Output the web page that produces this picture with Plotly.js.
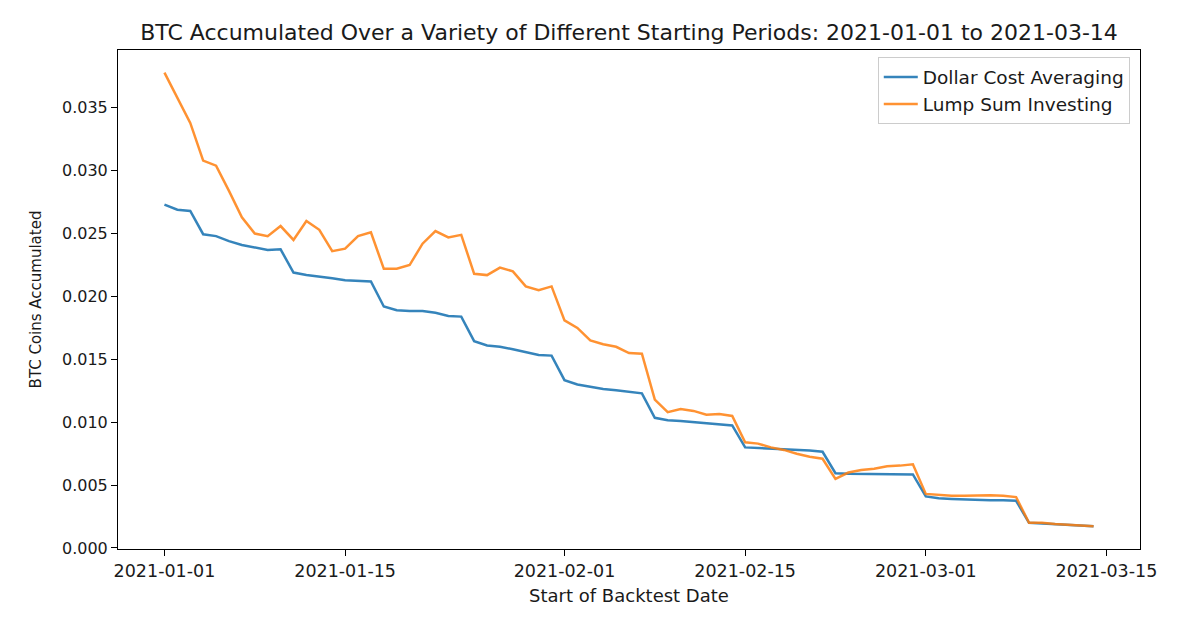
<!DOCTYPE html>
<html>
<head>
<meta charset="utf-8">
<script src="https://cdn.plot.ly/plotly-3.0.1.min.js"></script>
<style>
  html, body { margin: 0; padding: 0; background: #fff; }
  #chart { width: 1200px; height: 632px; }
</style>
</head>
<body>
<div id="chart"></div>
<script>
const dates = [
  '2021-01-01','2021-01-02','2021-01-03','2021-01-04','2021-01-05','2021-01-06','2021-01-07','2021-01-08','2021-01-09','2021-01-10',
  '2021-01-11','2021-01-12','2021-01-13','2021-01-14','2021-01-15','2021-01-16','2021-01-17','2021-01-18','2021-01-19','2021-01-20',
  '2021-01-21','2021-01-22','2021-01-23','2021-01-24','2021-01-25','2021-01-26','2021-01-27','2021-01-28','2021-01-29','2021-01-30',
  '2021-01-31','2021-02-01','2021-02-02','2021-02-03','2021-02-04','2021-02-05','2021-02-06','2021-02-07','2021-02-08','2021-02-09',
  '2021-02-10','2021-02-11','2021-02-12','2021-02-13','2021-02-14','2021-02-15','2021-02-16','2021-02-17','2021-02-18','2021-02-19',
  '2021-02-20','2021-02-21','2021-02-22','2021-02-23','2021-02-24','2021-02-25','2021-02-26','2021-02-27','2021-02-28','2021-03-01',
  '2021-03-02','2021-03-03','2021-03-04','2021-03-05','2021-03-06','2021-03-07','2021-03-08','2021-03-09','2021-03-10','2021-03-11',
  '2021-03-12','2021-03-13','2021-03-14'
];

const dcaValues = [
  0.0273, 0.0269, 0.0268, 0.02495, 0.0248, 0.0244, 0.0241, 0.0239, 0.0237, 0.02375,
  0.0219, 0.0217, 0.0216, 0.02145, 0.0213, 0.02125, 0.0212, 0.0192, 0.0189, 0.01885,
  0.01885, 0.0187, 0.01845, 0.0184, 0.01645, 0.0161, 0.0160, 0.0158, 0.01555, 0.01535,
  0.0153, 0.01335, 0.0130, 0.0128, 0.01265, 0.01255, 0.01245, 0.0123, 0.01035, 0.01015,
  0.0101, 0.0100, 0.00995, 0.00985, 0.00975, 0.0080, 0.00795, 0.0079, 0.00785, 0.00785,
  0.00775, 0.00765, 0.00595, 0.0059, 0.0059, 0.00585, 0.0059, 0.0059, 0.00585, 0.0041,
  0.00395, 0.0039, 0.00385, 0.00385, 0.0038, 0.0038, 0.00375, 0.0020, 0.00195, 0.0019,
  0.00182, 0.00178, 0.00172
];

const lumpValues = [
  0.0378, 0.0358, 0.0338, 0.0308, 0.0304, 0.0284, 0.0263, 0.0250, 0.0248, 0.0256,
  0.0245, 0.0260, 0.0253, 0.0236, 0.0238, 0.0248, 0.0251, 0.0222, 0.0222, 0.0225,
  0.0242, 0.0252, 0.0247, 0.0249, 0.0218, 0.0217, 0.0223, 0.0220, 0.0208, 0.0205,
  0.0208, 0.0181, 0.0175, 0.0165, 0.0162, 0.0160, 0.0155, 0.01545, 0.0118, 0.0108,
  0.01105, 0.0109, 0.0106, 0.01065, 0.0105, 0.0084, 0.0083, 0.0080, 0.0078, 0.0075,
  0.00725, 0.0071, 0.0055, 0.0060, 0.0062, 0.0063, 0.0065, 0.00655, 0.00665, 0.0043,
  0.0042, 0.00415, 0.00415, 0.0042, 0.0042, 0.00415, 0.00405, 0.0020, 0.0020, 0.0019,
  0.00183, 0.0018, 0.00173
];

const seriesNames = ['Dollar Cost Averaging', 'Lump Sum Investing'];
const xTickVals = ['2021-01-01','2021-01-15','2021-02-01','2021-02-15','2021-03-01','2021-03-15'];
const yTickVals = [0, 0.005, 0.010, 0.015, 0.020, 0.025, 0.030, 0.035];

const FONT = 'DejaVu Sans, sans-serif';
const TXT = '#1a1a1a';

const traces = [
  { x: dates, y: dcaValues, name: seriesNames[0], type: 'scatter', mode: 'lines',
    line: { color: '#1f77b4', width: 2.5 }, opacity: 0.9 },
  { x: dates, y: lumpValues, name: seriesNames[1], type: 'scatter', mode: 'lines',
    line: { color: '#ff7f0e', width: 2.5 }, opacity: 0.85 }
];

const layout = {
  width: 1200, height: 632,
  margin: { l: 118, r: 60, t: 50, b: 83 },
  paper_bgcolor: '#ffffff', plot_bgcolor: '#ffffff',
  font: { family: FONT, color: TXT, size: 16 },
  title: {
    text: 'BTC Accumulated Over a Variety of Different Starting Periods: 2021-01-01 to 2021-03-14',
    font: { family: FONT, size: 22, color: TXT },
    x: 0.5, xref: 'paper', xanchor: 'center',
    y: 1 - 32/632, yref: 'container', yanchor: 'middle'
  },
  xaxis: {
    type: 'date',
    range: ['2020-12-28 09:36', '2021-03-17 14:24'],
    tickvals: xTickVals, ticktext: xTickVals,
    showgrid: false, zeroline: false,
    showline: true, mirror: true, linecolor: '#000', linewidth: 1,
    ticks: 'outside', ticklen: 6, tickcolor: '#000', tickwidth: 1,
    tickfont: { family: FONT, size: 17.5, color: TXT },
    title: { text: 'Start of Backtest Date', font: { family: FONT, size: 18, color: TXT }, standoff: 9 }
  },
  yaxis: {
    range: [-0.00008, 0.0396],
    tickvals: yTickVals, tickformat: '.3f',
    showgrid: false, zeroline: false,
    showline: true, mirror: true, linecolor: '#000', linewidth: 1,
    ticks: 'outside', ticklen: 6, tickcolor: '#000', tickwidth: 1,
    tickfont: { family: FONT, size: 16, color: TXT },
    title: { text: 'BTC Coins Accumulated', font: { family: FONT, size: 15, color: TXT }, standoff: 16 }
  },
  showlegend: true,
  legend: {
    x: 0.99, xanchor: 'right', y: 0.985, yanchor: 'top',
    bgcolor: 'rgba(255,255,255,0.9)', bordercolor: '#cccccc', borderwidth: 1,
    font: { family: FONT, size: 18.5, color: TXT },
    itemwidth: 34,
    tracegroupgap: 0
  }
};

Plotly.newPlot('chart', traces, layout, { staticPlot: true, displayModeBar: false });
</script>
</body>
</html>
